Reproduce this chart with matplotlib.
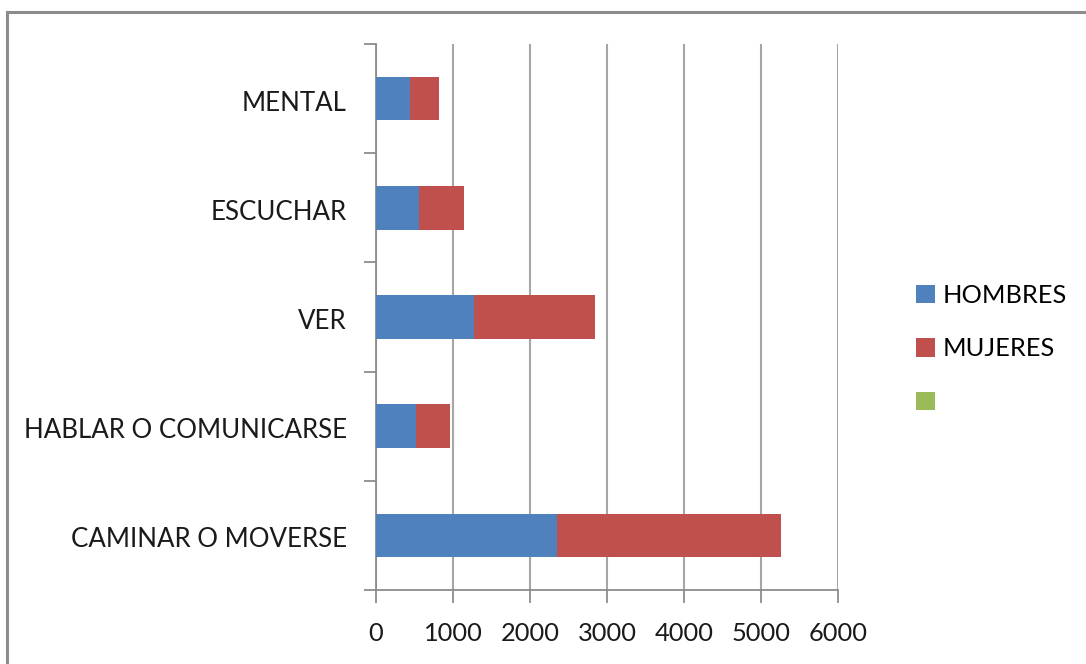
import matplotlib
matplotlib.use("Agg")
import matplotlib.pyplot as plt
import matplotlib.transforms as mtransforms
from matplotlib.patches import Rectangle, Patch
import numpy as np

categories = ["CAMINAR O MOVERSE", "HABLAR O COMUNICARSE", "VER", "ESCUCHAR", "MENTAL"]
hombres = [2355, 519, 1277, 562, 441]
mujeres = [2905, 437, 1567, 581, 381]
series_names = ["HOMBRES", "MUJERES", ""]
colors = ["#4F81BD", "#C0504D", "#9BBB59"]
xticks = [0, 1000, 2000, 3000, 4000, 5000, 6000]

plt.rcParams['font.family'] = ['Lato', 'DejaVu Sans']

W, H = 1086, 664
fig = plt.figure(figsize=(W / 100, H / 100), dpi=100)
fig.patch.set_facecolor("white")

# outer frame
fig.patches.append(Rectangle((7 / W, -0.1), 1.2, (H - 12) / H + 0.1, transform=fig.transFigure,
                             fill=False, edgecolor="#8c8c8c", linewidth=2.2))

left, right, top, bottom = 376, 838, 44, 590
ax = fig.add_axes([left / W, 1 - bottom / H, (right - left) / W, (bottom - top) / H])

y = np.arange(len(categories))
ax.barh(y, hombres, height=0.4, color=colors[0], label=series_names[0], zorder=3)
ax.barh(y, mujeres, left=hombres, height=0.4, color=colors[1], label=series_names[1], zorder=3)

ax.set_xlim(0, 6000)
ax.set_ylim(-0.5, len(categories) - 0.5)
ax.set_xticks(xticks)
ax.set_xticklabels([str(v) for v in xticks], fontsize=18.3, color="#1a1a1a")
ax.set_yticks(np.arange(-0.5, len(categories), 1.0))
ax.set_yticklabels([])
ax.set_yticks(y, minor=True)
ax.set_yticklabels(categories, minor=True, fontsize=18.6, color="#1a1a1a")
ax.tick_params(axis="y", which="minor", length=0, pad=21)
ax.tick_params(axis="y", which="major", length=9, color="#8c8c8c", width=1.3)
ax.tick_params(axis="x", length=9, color="#8c8c8c", width=1.3, pad=14)
offset = mtransforms.ScaledTranslation(0, -2 / 100, fig.dpi_scale_trans)
for lbl in ax.get_yticklabels(minor=True):
    lbl.set_transform(lbl.get_transform() + offset)

ax.grid(axis="x", color="#a6a6a6", linewidth=1.5, zorder=0)
for s in ["top", "right"]:
    ax.spines[s].set_visible(False)
for s in ["left", "bottom"]:
    ax.spines[s].set_color("#8c8c8c")
    ax.spines[s].set_linewidth(1.3)

handles = [Patch(facecolor=c, label=n) for c, n in zip(colors, series_names)]
fig.legend(handles=handles, loc="upper left", bbox_to_anchor=(893 / W, 1 - 261 / H),
           frameon=False, fontsize=18.3, handlelength=0.75, handleheight=0.75,
           handletextpad=0.3, labelspacing=1.2)

fig.savefig("out.png", dpi=100, facecolor="white")
